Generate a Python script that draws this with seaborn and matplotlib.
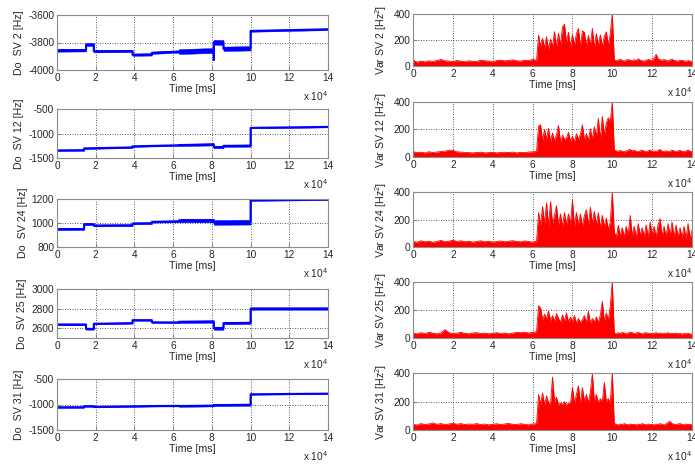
import numpy as np
import matplotlib
matplotlib.use("Agg")
import matplotlib.pyplot as plt
import seaborn as sns
from matplotlib.ticker import FuncFormatter

# ---------------- data ----------------
# Doppler traces: breakpoints (ms), level (Hz) and half spread of the noise band (Hz)
do2_t = [0, 15000, 15000, 19000, 19000, 39000, 39000, 49000, 49000, 63000, 63000, 81000, 81000, 81000, 86000, 86000, 100000, 100000, 140000]
do2_v = [-3857, -3855, -3815, -3815, -3864, -3862, -3889, -3887, -3875, -3866, -3866, -3858, -3925, -3798, -3800, -3846, -3842, -3716, -3704]
do2_w = [10, 10, 10, 10, 8, 8, 8, 8, 8, 8, 18, 18, 0, 18, 18, 16, 16, 6, 6]

do12_t = [0, 14000, 14000, 39000, 39000, 63000, 63000, 81000, 81000, 86000, 86000, 100000, 100000, 140000]
do12_v = [-1345, -1340, -1304, -1284, -1262, -1240, -1236, -1222, -1278, -1275, -1252, -1248, -885, -865]
do12_w = [12, 12, 12, 12, 12, 12, 22, 22, 25, 25, 22, 22, 10, 10]

do24_t = [0, 14000, 14000, 19000, 19000, 39000, 39000, 49000, 49000, 63000, 63000, 81000, 81000, 100000, 100000, 140000]
do24_v = [949, 950, 990, 990, 979, 981, 996, 998, 1010, 1014, 1021, 1021, 1005, 1007, 1190, 1197]
do24_w = [8, 8, 8, 8, 7, 7, 7, 7, 7, 7, 15, 15, 20, 20, 6, 6]

do25_t = [0, 15000, 15000, 19000, 19000, 39000, 39000, 49000, 49000, 63000, 63000, 81000, 81000, 86000, 86000, 100000, 100000, 140000]
do25_v = [2638, 2638, 2593, 2593, 2645, 2652, 2682, 2682, 2660, 2659, 2665, 2668, 2600, 2600, 2652, 2655, 2800, 2800]
do25_w = [8, 8, 8, 8, 6, 6, 6, 6, 6, 6, 12, 12, 16, 16, 12, 12, 12, 12]

do31_t = [0, 14000, 14000, 19000, 19000, 49000, 49000, 63000, 63000, 81000, 81000, 100000, 100000, 140000]
do31_v = [-1055, -1053, -1033, -1033, -1047, -1030, -1030, -1027, -1030, -1022, -1012, -1005, -800, -787]
do31_w = [12, 12, 12, 12, 10, 10, 10, 10, 16, 16, 20, 20, 8, 8]

# Variance traces: samples every 2 s before 63 s, every 1 s from 63 s on
t_pre = np.arange(0, 63000, 2000)
t_post = np.arange(63000, 140001, 1000)

var2_pre = [45, 30, 38, 32, 40, 35, 42, 50, 40, 38, 35, 42, 38, 33, 40, 36, 34, 45, 40, 38, 32, 42, 45, 40, 42, 48, 40, 38, 45, 42, 50, 45]
var2_post = [238, 150, 212, 140, 225, 130, 205, 150, 264, 145, 250, 160, 300, 322, 180, 260, 150, 240, 160, 250,
             289, 150, 270, 260, 155, 235, 160, 290, 140, 250, 160, 240, 150, 230, 264, 160, 250, 400,
             48, 40, 45, 52, 42, 38, 46, 50, 44, 40, 48, 42, 55, 45, 40, 38, 44, 50, 46, 42,
             60, 90, 55, 48, 45, 50, 42, 40, 46, 52, 44, 40, 38, 45, 42, 40, 36, 42, 38, 35]

var12_pre = [40, 32, 35, 30, 38, 33, 36, 40, 42, 50, 48, 38, 35, 34, 32, 30, 33, 35, 30, 32, 34, 30, 33, 35, 32, 36, 30, 34, 32, 36, 38, 40]
var12_post = [225, 235, 120, 200, 130, 210, 115, 175, 120, 160, 230, 110, 160, 130, 135, 180, 115, 150, 110, 170,
              130, 165, 235, 125, 170, 120, 205, 130, 220, 150, 280, 130, 295, 160, 250, 285, 260, 400,
              50, 45, 42, 48, 40, 38, 44, 50, 55, 45, 48, 42, 40, 45, 50, 42, 38, 45, 50, 40,
              45, 40, 48, 55, 42, 40, 46, 38, 42, 50, 44, 40, 45, 48, 42, 38, 45, 50, 42, 40]

var24_pre = [40, 35, 45, 38, 42, 35, 40, 48, 38, 42, 50, 40, 45, 38, 42, 36, 40, 45, 38, 42, 36, 40, 44, 38, 42, 46, 40, 38, 44, 40, 36, 42]
var24_post = [250, 160, 295, 170, 320, 150, 330, 170, 230, 300, 160, 240, 150, 250, 160, 240, 170, 340, 150, 250,
              160, 240, 150, 230, 270, 160, 290, 170, 260, 160, 250, 140, 230, 150, 210, 130, 180, 400,
              110, 70, 158, 80, 140, 75, 150, 90, 230, 80, 150, 70, 170, 85, 140, 75, 160, 70, 182, 90,
              150, 70, 165, 206, 80, 150, 75, 170, 80, 182, 70, 160, 75, 140, 70, 150, 60, 170, 65, 120]

var25_pre = [35, 30, 38, 32, 40, 35, 30, 36, 60, 38, 32, 35, 40, 34, 30, 36, 38, 32, 35, 30, 34, 38, 32, 36, 30, 35, 40, 38, 42, 36, 40, 45]
var25_post = [229, 215, 130, 170, 140, 192, 125, 160, 120, 175, 140, 110, 165, 120, 180, 115, 150, 120, 160, 105,
              140, 110, 130, 160, 110, 192, 105, 140, 115, 150, 110, 165, 261, 120, 180, 130, 229, 400,
              35, 30, 38, 32, 40, 35, 30, 36, 42, 38, 32, 35, 40, 34, 30, 36, 38, 32, 35, 30,
              34, 38, 32, 36, 30, 35, 33, 38, 30, 34, 32, 36, 30, 33, 28, 32, 30, 34, 28, 30]

var31_pre = [40, 35, 45, 38, 42, 50, 40, 45, 38, 42, 48, 40, 45, 38, 42, 40, 45, 38, 42, 36, 40, 44, 38, 42, 46, 40, 38, 44, 40, 36, 42, 45]
var31_post = [249, 180, 260, 175, 240, 190, 180, 371, 200, 230, 175, 190, 180, 200, 175, 190, 185, 298, 190, 250,
              310, 185, 298, 200, 250, 190, 270, 395, 200, 250, 190, 220, 200, 334, 200, 220, 190, 400,
              45, 40, 35, 42, 38, 45, 40, 36, 42, 38, 40, 35, 42, 38, 45, 40, 36, 42, 38, 40,
              35, 42, 38, 45, 40, 36, 42, 55, 60, 45, 40, 38, 42, 45, 40, 36, 42, 38, 40, 35]

sv_names = ["2", "12", "24", "25", "31"]
do_series = [(do2_t, do2_v, do2_w), (do12_t, do12_v, do12_w), (do24_t, do24_v, do24_w),
             (do25_t, do25_v, do25_w), (do31_t, do31_v, do31_w)]
do_ylims = [(-4000, -3600), (-1500, -500), (800, 1200), (2500, 3000), (-1500, -500)]
do_yticks = [[-4000, -3800, -3600], [-1500, -1000, -500], [800, 1000, 1200], [2600, 2800, 3000], [-1500, -1000, -500]]
var_series = [(var2_pre, var2_post), (var12_pre, var12_post), (var24_pre, var24_post),
              (var25_pre, var25_post), (var31_pre, var31_post)]
var_yticks = [0, 200, 400]
x_ticks = [0, 20000, 40000, 60000, 80000, 100000, 120000, 140000]

# ---------------- style ----------------
sns.set_style("white")
plt.rcParams["font.family"] = ["Liberation Sans", "DejaVu Sans"]
plt.rcParams["mathtext.default"] = "regular"
plt.rcParams["axes.unicode_minus"] = False

BLUE = "#0000ff"
RED = "#ff0000"
TICK_FS = 7.3
LAB_FS = 7.7

W, H = 695, 468
fig = plt.figure(figsize=(W / 100, H / 100), dpi=100)


def rect(x0, x1, top, bot):
    return [x0 / W, 1 - bot / H, (x1 - x0) / W, (bot - top) / H]


left_rows = [(15, 70), (109, 158), (199, 247), (289, 338), (379, 430)]
right_rows = [(14, 66), (102, 157), (192, 247), (282, 338), (373, 430)]

xfmt = FuncFormatter(lambda v, _: f"{v / 1e4:g}")


def style(ax, ylabel):
    ax.set_xlim(0, 140000)
    ax.set_xticks(x_ticks)
    ax.xaxis.set_major_formatter(xfmt)
    ax.set_axisbelow(True)
    ax.grid(True, linestyle=(0, (1, 2)), color="#222222", linewidth=0.6)
    ax.tick_params(direction="in", length=3, labelsize=TICK_FS, pad=2,
                   color="#808080", bottom=True, left=True)
    for s in ax.spines.values():
        s.set_color("#8c8c8c")
        s.set_linewidth(0.8)
    ax.set_xlabel("Time [ms]", fontsize=LAB_FS, labelpad=1)
    ax.set_ylabel(ylabel, fontsize=LAB_FS, labelpad=3)
    ax.annotate("x 10$^{4}$", xy=(1, 0), xycoords="axes fraction",
                xytext=(0, -26), textcoords="offset pixels",
                ha="right", va="center", fontsize=TICK_FS)


for i in range(5):
    # left: Doppler
    ax = fig.add_axes(rect(57, 328, *left_rows[i]))
    t, v, w = (np.asarray(a, dtype=float) for a in do_series[i])
    ax.fill_between(t, v - w, v + w, color=BLUE, linewidth=0.3)
    sns.lineplot(x=t, y=v, ax=ax, color=BLUE, linewidth=1.5,
                 estimator=None, sort=False)
    ax.set_ylim(*do_ylims[i])
    ax.set_yticks(do_yticks[i])
    style(ax, f"Do  SV {sv_names[i]} [Hz]")

    # right: variance
    ax = fig.add_axes(rect(413, 692, *right_rows[i]))
    pre, post = var_series[i]
    t = np.concatenate([t_pre, t_post]).astype(float)
    y = np.concatenate([pre, post]).astype(float)
    ax.fill_between(t, 0, y, color=RED, linewidth=0)
    sns.lineplot(x=t, y=y, ax=ax, color=RED, linewidth=0.6,
                 estimator=None, sort=False)
    ax.set_ylim(0, 400)
    ax.set_yticks(var_yticks)
    style(ax, f"Var SV {sv_names[i]} [Hz$^{{2}}$]")

fig.savefig("out.png", dpi=100)
